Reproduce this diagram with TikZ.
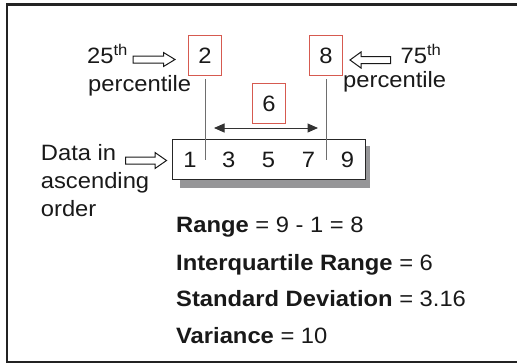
\documentclass[tikz,border=0pt]{standalone}
\usepackage{fontspec}
\setmainfont{Liberation Sans}[FakeStretch=1.07]
\usetikzlibrary{arrows.meta}
\definecolor{boxred}{RGB}{214,90,80}
\definecolor{shadowgray}{RGB}{150,150,152}
\definecolor{linegray}{RGB}{110,110,110}
\definecolor{framecol}{RGB}{35,35,35}
\begin{document}
\begin{tikzpicture}[x=1pt,y=-1pt,
  txt/.style={font=\fontsize{22.2}{26}\selectfont,inner sep=0pt,anchor=base west,text=black!90},
  num/.style={font=\fontsize{22.2}{26}\selectfont,inner sep=0pt,anchor=base,text=black!90},
  redbox/.style={draw=boxred,line width=1.4pt,minimum width=33pt,minimum height=40pt,inner sep=0pt,font=\fontsize{22.2}{26}\selectfont,text=black!90},
  blockarrow/.style={draw=black!90,line width=1pt,fill=white,line join=miter},
  vline/.style={draw=linegray,line width=1pt},
]
\useasboundingbox (0,0) rectangle (517,364);
\begin{scope}
\clip (0,0) rectangle (517,364);
\draw[framecol,line width=2.5pt] (7,4.5) rectangle (530,362);
\end{scope}

% red boxes
\node[redbox] (q1) at (205,55.5) {2};
\node[redbox] (q3) at (326,55.5) {8};
\node[redbox] (iqr) at (269,103.5) {6};

% data box with shadow
\fill[shadowgray] (180,146) rectangle (370,188);
\node[draw=black!85,fill=white,line width=1pt,minimum width=193pt,minimum height=40pt,inner sep=0pt] (data) at (268.5,159.5) {};
\node[num] (d1) at (190,167.7) {1};
\node[num] (d3) at (228.8,167.7) {3};
\node[num] (d5) at (268.5,167.7) {5};
\node[num] (d7) at (308.6,167.7) {7};
\node[num] (d9) at (347.6,167.7) {9};

% vertical quartile lines
\coordinate (l1) at (205.5,160);
\coordinate (l3) at (326,160);
\draw[vline] (l1 |- 0,79) -- (l1);
\draw[vline] (l3 |- 0,79) -- (l3);

% double arrow
\coordinate (al) at (214,128);
\coordinate (ar) at (318,128);
\draw[draw=black!80,line width=1pt,{Triangle[length=10.5pt,width=9pt]}-{Triangle[length=10.5pt,width=9pt]}] (al) -- (ar);

% labels
\node[txt] (p25) at (87,63.3) {25\textsuperscript{th}};
\node[txt] (p25b) at (88,91.7) {percentile};
\node[txt] (p75) at (400.5,63.3) {75\textsuperscript{th}};
\node[txt] (p75b) at (343,87) {percentile};
\node[txt] (dt1) at (40.7,160) {Data in};
\node[txt] (dt2) at (40.7,188.3) {ascending};
\node[txt] (dt3) at (40.7,216.7) {order};

% block arrows
\draw[blockarrow] (133,56) -- (163.5,56) -- (163.5,52.5) -- (175,59.5) -- (163.5,66.5) -- (163.5,63) -- (133,63) -- cycle;
\draw[blockarrow] (390.5,56.5) -- (361,56.5) -- (361,52) -- (350,60) -- (361,68) -- (361,63.5) -- (390.5,63.5) -- cycle;
\draw[blockarrow] (125.5,157) -- (155,157) -- (155,152.5) -- (166.5,160.5) -- (155,168.5) -- (155,164) -- (125.5,164) -- cycle;

% statistics
\node[txt] (s1) at (176,232.7) {\textbf{Range} = 9 - 1 = 8};
\node[txt] (s2) at (176,270) {\textbf{Interquartile Range} = 6};
\node[txt] (s3) at (176,306.7) {\textbf{Standard Deviation} = 3.16};
\node[txt] (s4) at (176,343.3) {\textbf{Variance} = 10};
\end{tikzpicture}
\end{document}
